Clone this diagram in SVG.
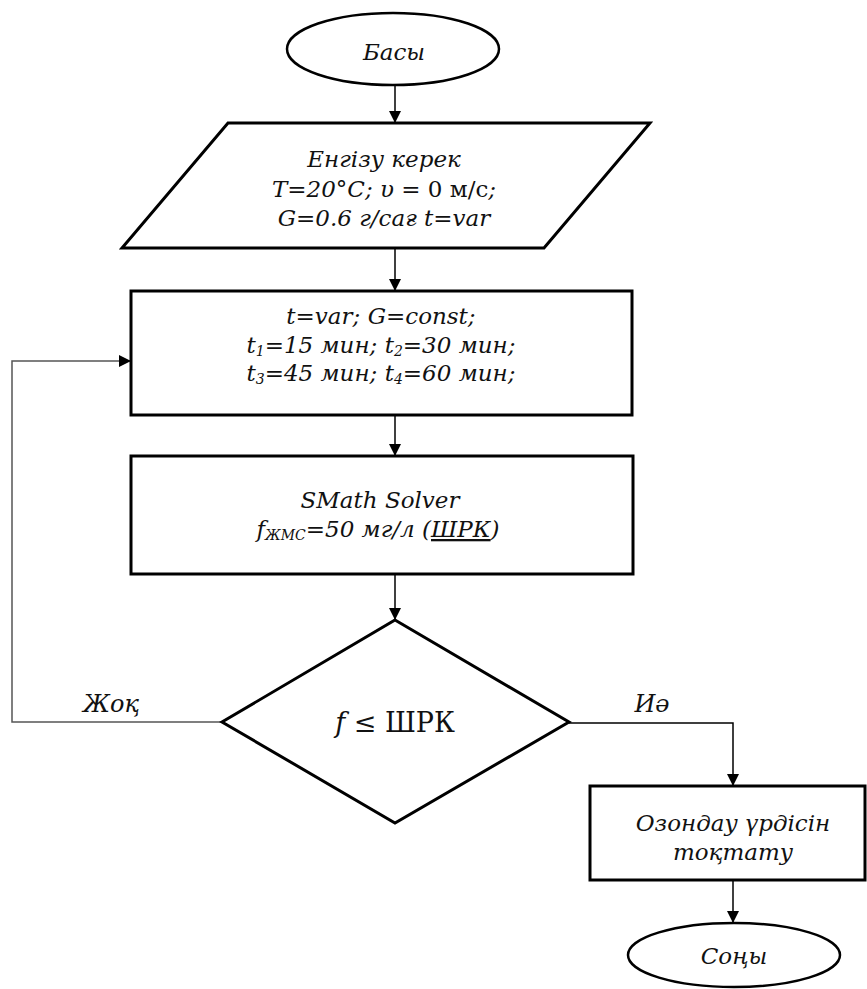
<svg xmlns="http://www.w3.org/2000/svg" width="867" height="989" viewBox="0 0 867 989">
<style>
.shape{fill:#fff;stroke:#000;stroke-width:3}
.term{fill:#fff;stroke:#000;stroke-width:2.5}
.conn{fill:none;stroke:#000;stroke-width:1.5}
.loop{fill:none;stroke:#555;stroke-width:1.5}
text{font-family:"DejaVu Serif","Liberation Serif",serif;font-style:italic;font-size:23px;fill:#111;text-anchor:middle}
.math{font-style:normal;font-size:27px}
.lbl{font-size:24px}
</style>
<defs>
<marker id="ah" markerWidth="12" markerHeight="12" refX="11" refY="6" orient="auto" markerUnits="userSpaceOnUse">
<path d="M0,0 L12,6 L0,12 Z" fill="#000"/>
</marker>
</defs>
<g id="connectors">
<line class="conn" x1="395" y1="85" x2="395" y2="122" marker-end="url(#ah)"/>
<line class="conn" x1="395" y1="248" x2="395" y2="290" marker-end="url(#ah)"/>
<line class="conn" x1="395" y1="415" x2="395" y2="455" marker-end="url(#ah)"/>
<line class="conn" x1="395" y1="574" x2="395" y2="619" marker-end="url(#ah)"/>
<polyline class="loop" points="222,722 12,722 12,361 130,361" marker-end="url(#ah)"/>
<polyline class="conn" points="569,723 733,723 733,785" marker-end="url(#ah)"/>
<line class="conn" x1="733" y1="880" x2="733" y2="922" marker-end="url(#ah)"/>
<text class="lbl" x="111" y="712">Жоқ</text>
<text class="lbl" x="652" y="712">Иә</text>
</g>
<g id="start">
<ellipse class="term" cx="393" cy="49" rx="106" ry="36"/>
<text x="394" y="60">Басы</text>
</g>
<g id="input">
<polygon class="shape" points="228,123 650,123 544,248 122,248" stroke-width="2.5"/>
<text x="384" y="167">Енгізу керек</text>
<text x="384" y="197">T=20°C; υ <tspan style="font-style:normal">= 0 м/с</tspan>;</text>
<text x="384" y="226">G=0.6 г/сағ t=var</text>
</g>
<g id="params">
<rect class="shape" x="131" y="291" width="501" height="124"/>
<text x="381" y="324">t=var; G=const;</text>
<text x="381" y="353">t<tspan font-size="14" dy="3">1</tspan><tspan dy="-3">=15 мин; t</tspan><tspan font-size="14" dy="3">2</tspan><tspan dy="-3">=30 мин;</tspan></text>
<text x="381" y="381">t<tspan font-size="14" dy="3">3</tspan><tspan dy="-3">=45 мин; t</tspan><tspan font-size="14" dy="3">4</tspan><tspan dy="-3">=60 мин;</tspan></text>
</g>
<g id="solver">
<rect class="shape" x="131" y="456" width="502" height="118"/>
<text x="380" y="508">SMath Solver</text>
<text x="378" y="537">f<tspan font-size="14" dy="3">ЖМС</tspan><tspan dy="-3">=50 мг/л (<tspan text-decoration="underline">ШРК</tspan>)</tspan></text>
</g>
<g id="decision">
<polygon class="shape" points="395,620 569,722 395,823 222,722" stroke-width="2.5"/>
<text class="math" x="395" y="732"><tspan font-style="italic">f</tspan> ≤ ШРК</text>
</g>
<g id="stop">
<rect class="shape" x="590" y="786" width="275" height="94"/>
<text x="733" y="831">Озондау үрдісін</text>
<text x="733" y="860">тоқтату</text>
</g>
<g id="end">
<ellipse class="term" cx="734" cy="955" rx="106" ry="32"/>
<text x="734" y="964">Соңы</text>
</g>
</svg>
